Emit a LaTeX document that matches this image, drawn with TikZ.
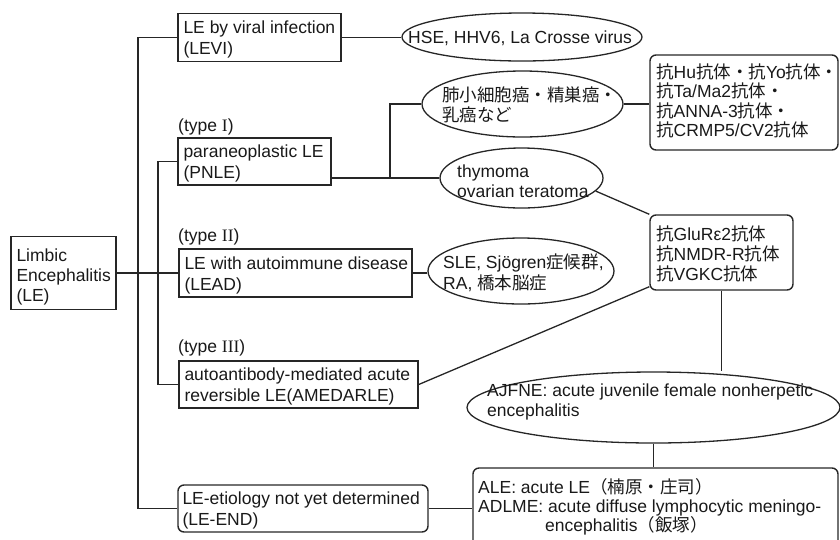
\documentclass[tikz,border=0pt]{standalone}
\usepackage{fontspec}
\setmainfont{Liberation Sans}
\newfontfamily\jpfont{Noto Sans CJK JP}
\newfontfamily\romfont{Liberation Serif}
\usetikzlibrary{shapes.geometric}
\newcommand\J[1]{{\jpfont #1}}
\newcommand\R[1]{{\romfont #1}}
\begin{document}
\begin{tikzpicture}[x=1pt,y=-1pt,
  every node/.style={font=\fontsize{17.5}{21}\selectfont, text=black!90},
  sq/.style={draw=black!85, line width=1.4pt, inner sep=0pt},
  rbox/.style={draw=black!85, line width=1.4pt, rounded corners=6pt, inner sep=0pt},
  ell/.style={draw=black!85, ellipse, line width=1.3pt, inner sep=0pt},
  txt/.style={align=left, inner sep=0pt, anchor=west, yshift=-2pt},
  ln/.style={draw=black!85, line width=1.3pt}]
\useasboundingbox (0,0) rectangle (840,539);
\clip (0,0) rectangle (840,539);

% left boxes
\node[sq, minimum width=105pt, minimum height=73pt] (le) at (63.5,273) {};
\node[txt, font=\fontsize{17.5}{20}\selectfont, yshift=-1.5pt] (let) at ([xshift=6pt]le.west) {Limbic\\Encephalitis\\(LE)};

\node[sq, minimum width=163pt, minimum height=48pt] (levi) at (259.5,37.5) {};
\node[txt] (levit) at ([xshift=6pt]levi.west) {LE by viral infection\\(LEVI)};

\node[sq, minimum width=153pt, minimum height=47pt] (pnle) at (254.5,161.5) {};
\node[txt] (pnlet) at ([xshift=6pt]pnle.west) {paraneoplastic LE\\(PNLE)};
\node[txt, yshift=1pt] (ty1) at (178,126) {(type \R{I})};

\node[sq, minimum width=233pt, minimum height=48pt] (lead) at (295.5,273) {};
\node[txt] (leadt) at ([xshift=6pt]lead.west) {LE with autoimmune disease\\(LEAD)};
\node[txt, yshift=1pt] (ty2) at (178,236) {(type \R{II})};

\node[sq, minimum width=239pt, minimum height=47pt] (amed) at (298.5,384.5) {};
\node[txt] (amedt) at ([xshift=6pt]amed.west) {autoantibody-mediated acute\\reversible LE(AMEDARLE)};
\node[txt, yshift=1pt] (ty3) at (178,347) {(type \R{III})};

\node[rbox, minimum width=250pt, minimum height=47pt] (leend) at (303,508.5) {};
\node[txt] (leendt) at ([xshift=5pt]leend.west) {LE-etiology not yet determined\\(LE-END)};

% ellipses
\node[ell, minimum width=240pt, minimum height=48pt] (hse) at (522,37) {};
\node[txt, yshift=1pt] (hset) at (408,37) {HSE, HHV6, La Crosse virus};

\node[ell, minimum width=201pt, minimum height=66pt] (lung) at (522.5,104) {};
\node[txt, font=\fontsize{17.5}{20}\selectfont] (lungt) at (442,102.5) {\J{肺小細胞癌・精巣癌・}\\\J{乳癌など}};

\node[ell, minimum width=163pt, minimum height=60pt] (thy) at (521.5,178) {};
\node[txt, font=\fontsize{17.5}{20}\selectfont] (thyt) at (457,179) {thymoma\\ovarian teratoma};

\node[ell, minimum width=186pt, minimum height=66pt] (sle) at (521,271) {};
\node[txt] (slet) at (443,270.5) {SLE, Sj\"ogren\J{症候群},\\RA, \J{橋本脳症}};

\node[ell, minimum width=373pt, minimum height=71pt] (ajf) at (653.5,407.5) {};
\node[txt, font=\fontsize{17.5}{20}\selectfont] (ajft) at (487,400) {AJFNE: acute juvenile female nonherpetic\\encephalitis};

% rounded boxes right
\node[rbox, minimum width=188pt, minimum height=95pt] (hu) at (744,102.5) {};
\node[txt, font=\fontsize{17.5}{19.5}\selectfont, yshift=2pt] (hut) at (656,101) {\J{抗}Hu\J{抗体・抗}Yo\J{抗体・}\\\J{抗}Ta/Ma2\J{抗体・}\\\J{抗}ANNA-3\J{抗体・}\\\J{抗}CRMP5/CV2\J{抗体}};

\node[rbox, minimum width=143pt, minimum height=75pt] (glu) at (721.5,252.5) {};
\node[txt, font=\fontsize{17.5}{20}\selectfont] (glut) at (656,252) {\J{抗}GluRε2\J{抗体}\\\J{抗}NMDR-R\J{抗体}\\\J{抗}VGKC\J{抗体}};

\node[rbox, minimum width=365pt, minimum height=80pt] (ale) at (655.5,508) {};
\node[txt, font=\fontsize{17.5}{19}\selectfont] (alet) at (478,505) {ALE: acute LE\J{（楠原・庄司）}\\ADLME: acute diffuse lymphocytic meningo-\\\hspace*{67pt}encephalitis\J{（飯塚）}};

% connectors
\coordinate (ot) at (138,0);
\coordinate (it) at (158,0);
\coordinate (br) at (390,178);
\draw[ln] (levi.west) -- (levi.west -| ot) -- (ot |- leend.west) -- (leend.west);
\draw[ln] (pnle.west) -- (pnle.west -| it) -- (it |- amed.west) -- (amed.west);
\draw[ln] (le.east) -- (le.east -| lead.west);
\draw[ln] (levi.east) -- (levi.east -| hse.west);
\draw[ln] (pnle.east |- thy.west) -- (thy.west);
\draw[ln] (br) |- (lung.west);
\draw[ln] (lung.east) -- (lung.east -| hu.west);
\draw[ln] (lead.east) -- (lead.east -| sle.west);
\draw[ln] (thy.-10) -- (glu.north west);
\draw[ln] (amed.east) -- ([yshift=4pt]glu.south west);
\draw[ln] (glu.south) -- (glu.south |- ajf.north);
\draw[ln] (ajf.south) -- (ajf.south |- ale.north);
\draw[ln] (leend.east) -- (leend.east -| ale.west);
\end{tikzpicture}
\end{document}
